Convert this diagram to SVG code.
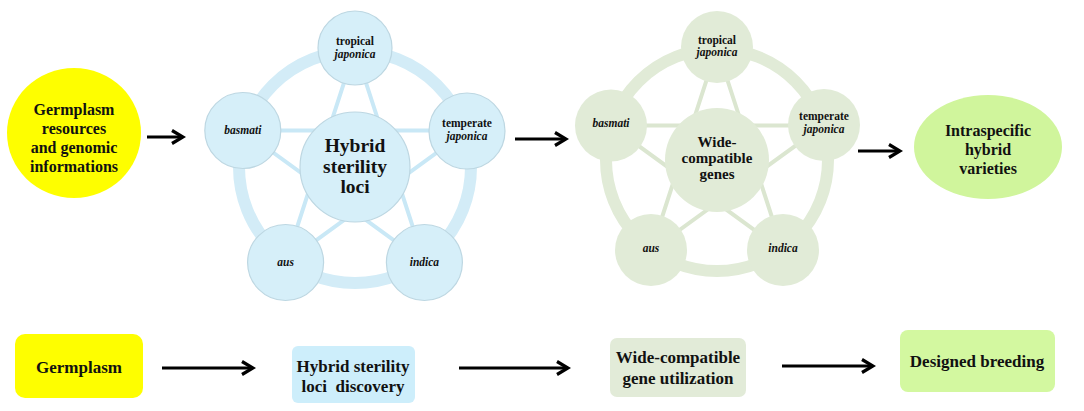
<svg xmlns="http://www.w3.org/2000/svg" width="1084" height="411" viewBox="0 0 1084 411">
<style>
text{font-family:"Liberation Serif","Times New Roman",serif;font-weight:bold;fill:#111;text-anchor:middle}
.it{font-style:italic}
.s{font-size:11.5px}
.bc{fill:#d6eff9;stroke:#bdd7e2;stroke-width:1.2}
.gc{fill:#e1ebd7}
.bring{fill:none;stroke:#d3ecf7;stroke-width:12}
.gring{fill:none;stroke:#e1ebd7;stroke-width:12}
.bstar{fill:none;stroke:#c9e8f6;stroke-width:4}
.gstar{fill:none;stroke:#dbe6d0;stroke-width:4}
.arr{fill:none;stroke:#000;stroke-width:3.2;marker-end:url(#ah)}
</style>
<defs>
<marker id="ah" markerUnits="userSpaceOnUse" markerWidth="16" markerHeight="18" refX="13" refY="8" orient="auto">
<path d="M2,1.5 L13,8 L2,14.5" fill="none" stroke="#000" stroke-width="3.2"/>
</marker>
</defs>
<rect width="1084" height="411" fill="#fff"/>

<g id="connectors">
<line class="arr" x1="147" y1="137" x2="183" y2="137"/>
<line class="arr" x1="515" y1="139" x2="566" y2="139"/>
<line class="arr" x1="858" y1="151" x2="900" y2="151"/>
<line class="arr" x1="162" y1="368" x2="253" y2="368"/>
<line class="arr" x1="459" y1="368" x2="568" y2="368"/>
<line class="arr" x1="782" y1="366" x2="873" y2="366"/>
</g>

<g id="blue-wheel">
<circle class="bring" cx="355" cy="167" r="116"/>
<polygon class="bstar" points="355,49 424.4,262.5 242.8,130.5 467.2,130.5 285.6,262.5"/>
</g>
<g id="green-wheel">
<circle class="gring" cx="717" cy="160" r="111"/>
<polygon class="gstar" points="717,48 782.8,250.6 610.5,125.4 823.5,125.4 651.2,250.6"/>
</g>

<g id="germplasm-resources">
<ellipse cx="74" cy="133" rx="67" ry="65" fill="#fefe00"/>
<text font-size="16" x="74" y="115">Germplasm</text>
<text font-size="16" x="74" y="134">resources</text>
<text font-size="16" x="74" y="153">and genomic</text>
<text font-size="16" x="74" y="172">informations</text>
</g>

<g id="b-tropical"><circle class="bc" cx="355" cy="48" r="37"/>
<text class="s" x="355" y="45">tropical</text><text class="s it" x="355" y="58">japonica</text></g>
<g id="b-temperate"><circle class="bc" cx="467" cy="131" r="38"/>
<text class="s" x="467" y="127">temperate</text><text class="s it" x="467" y="140">japonica</text></g>
<g id="b-indica"><circle class="bc" cx="424.4" cy="262.5" r="38"/>
<text class="s it" x="424.4" y="266">indica</text></g>
<g id="b-aus"><circle class="bc" cx="285.6" cy="262.5" r="38"/>
<text class="s it" x="285.6" y="266">aus</text></g>
<g id="b-basmati"><circle class="bc" cx="242.8" cy="130.5" r="38"/>
<text class="s it" x="242.8" y="134">basmati</text></g>
<g id="b-center"><circle class="bc" cx="355" cy="167" r="55"/>
<text font-size="19.5" x="355" y="152">Hybrid</text>
<text font-size="19.5" x="355" y="173">sterility</text>
<text font-size="19.5" x="355" y="193">loci</text></g>

<g id="g-tropical"><circle class="gc" cx="717" cy="47" r="36"/>
<text class="s" x="717" y="44">tropical</text><text class="s it" x="717" y="56">japonica</text></g>
<g id="g-temperate"><circle class="gc" cx="824" cy="125" r="36"/>
<text class="s" x="824" y="120">temperate</text><text class="s it" x="824" y="133">japonica</text></g>
<g id="g-indica"><circle class="gc" cx="783" cy="250" r="36"/>
<text class="s it" x="783" y="252">indica</text></g>
<g id="g-aus"><circle class="gc" cx="651" cy="250" r="36"/>
<text class="s it" x="651" y="252">aus</text></g>
<g id="g-basmati"><circle class="gc" cx="611" cy="125.5" r="36"/>
<text class="s it" x="611" y="127">basmati</text></g>
<g id="g-center"><circle class="gc" cx="717" cy="160" r="52"/>
<text font-size="15" x="717" y="147">Wide-</text>
<text font-size="15" x="717" y="163">compatible</text>
<text font-size="15" x="717" y="179">genes</text></g>

<g id="hybrid-varieties">
<ellipse cx="988" cy="147" rx="74" ry="52" fill="#d0f59c"/>
<text font-size="16" x="988" y="136">Intraspecific</text>
<text font-size="16" x="988" y="155">hybrid</text>
<text font-size="16" x="988" y="174">varieties</text>
</g>

<g id="box-germplasm"><rect x="15" y="334" width="128" height="64" rx="10" fill="#fefe00"/>
<text font-size="17" x="79" y="373">Germplasm</text></g>
<g id="box-hybrid"><rect x="292" y="346" width="123" height="57" rx="6" fill="#cdeefb"/>
<text font-size="17" x="353" y="372">Hybrid sterility</text>
<text font-size="17" x="353" y="392" xml:space="preserve">loci  discovery</text></g>
<g id="box-wide"><rect x="610" y="338" width="136" height="59" rx="7" fill="#e2ebd8"/>
<text font-size="17" x="678" y="363">Wide-compatible</text>
<text font-size="17" x="678" y="384">gene utilization</text></g>
<g id="box-designed"><rect x="900" y="330" width="155" height="62" rx="8" fill="#d3f8a0"/>
<text font-size="17" x="977" y="367">Designed breeding</text></g>
</svg>
